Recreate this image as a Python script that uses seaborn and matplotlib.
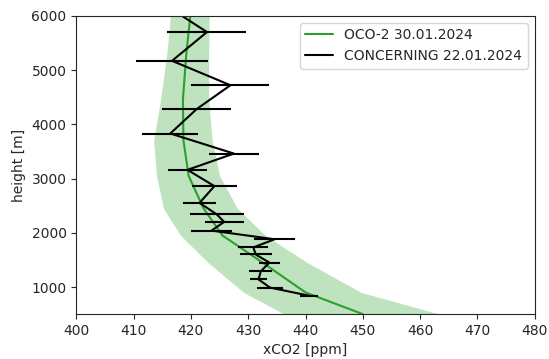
import numpy as np
import pandas as pd
import matplotlib
matplotlib.use("Agg")
import matplotlib.pyplot as plt
import seaborn as sns

# OCO-2 profile (30.01.2024): centre line and uncertainty band
oco_height = [500, 900, 1450, 1950, 2450, 3050, 3700, 4450, 5300, 6200]
oco_xco2 = [450.0, 440.0, 432.5, 425.5, 422.2, 419.6, 418.7, 418.6, 419.2, 420.1]
oco_low = [436.3, 429.2, 423.0, 418.2, 415.2, 414.0, 413.5, 414.7, 415.8, 416.6]
oco_high = [463.4, 449.7, 440.3, 433.0, 428.1, 425.0, 423.7, 423.1, 423.1, 423.2]

# CONCERNING profile (22.01.2024) with horizontal error bars
conc_height = [6200, 5700, 5170, 4720, 4280, 3830, 3460, 3160, 2860, 2550, 2340,
               2200, 2040, 1880, 1730, 1600, 1450, 1290, 1140, 990, 840]
conc_xco2 = [415.5, 422.8, 416.7, 426.9, 421.0, 416.4, 427.5, 419.4, 424.1, 421.5, 424.5,
             425.8, 423.6, 434.6, 430.9, 431.3, 433.7, 432.2, 431.8, 433.8, 440.6]
conc_err = [6.5, 6.9, 6.2, 6.8, 6.0, 4.9, 4.4, 3.4, 3.9, 2.9, 4.7,
            3.4, 3.6, 3.6, 2.6, 2.8, 1.8, 2.0, 1.5, 2.2, 1.5]

oco = pd.DataFrame({"height": oco_height, "xco2": oco_xco2})
conc = pd.DataFrame({"height": conc_height, "xco2": conc_xco2, "err": conc_err})

sns.set_style("ticks")
plt.rcParams["font.family"] = ["DejaVu Sans"]
plt.rcParams["font.size"] = 10

fig = plt.figure(figsize=(5.49, 3.59), dpi=100)
ax = fig.add_axes([0.139, 0.125, 0.835, 0.831])

green = "#2ca02c"

# uncertainty band
ax.fill_betweenx(oco_height, oco_low, oco_high, color=green, alpha=0.3, linewidth=0)

sns.lineplot(data=oco, x="xco2", y="height", orient="y", color=green,
             linewidth=1.5, label="OCO-2 30.01.2024", ax=ax)

ax.errorbar(conc["xco2"], conc["height"], xerr=conc["err"], fmt="none",
            ecolor="black", elinewidth=1.5, capsize=0)
sns.lineplot(data=conc, x="xco2", y="height", sort=False, color="black",
             linewidth=1.5, label="CONCERNING 22.01.2024", ax=ax)

ax.set_xlim(400, 480)
ax.set_ylim(500, 6000)
ax.set_xticks(np.arange(400, 481, 10))
ax.set_yticks(np.arange(1000, 6001, 1000))
ax.set_xlabel("xCO2 [ppm]")
ax.set_ylabel("height [m]")
ax.legend(loc="upper right", fontsize=10)

fig.savefig("out.png", dpi=100)
